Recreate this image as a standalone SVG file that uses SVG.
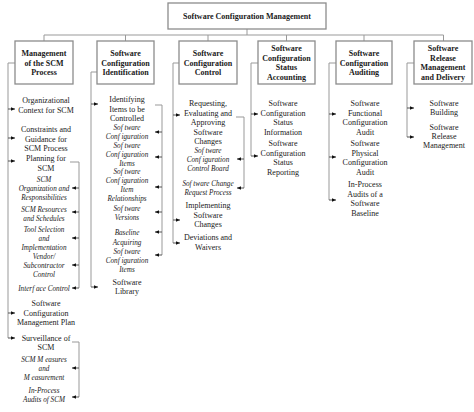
<svg xmlns="http://www.w3.org/2000/svg" width="474" height="412" viewBox="0 0 474 412">
<defs>
<marker id="ah" markerUnits="userSpaceOnUse" markerWidth="5" markerHeight="4" refX="4" refY="2" orient="auto">
<path d="M0,0.2 L4,2 L0,3.8 z" fill="#111"/>
</marker>
<style>
text{font-family:"Liberation Serif","Times New Roman",serif;fill:#1a1a1a;text-anchor:middle}
.hdr{font-size:8px;font-weight:bold}
.l2{font-size:8px}
.l3{font-size:7.2px;font-style:italic}
.box{fill:#fff;stroke:#8c8c8c;stroke-width:1.3}
.ln{fill:none;stroke:#999;stroke-width:1}
.ar{fill:none;stroke:#555;stroke-width:1;marker-end:url(#ah)}
</style>
</defs>
<rect width="474" height="412" fill="#fff"/>

<g id="connectors">
<path class="ln" d="M247,29 V35 M44,41 V35 H443.5 V41 M125.5,35 V41 M208,35 V41 M286.5,35 V41 M364,35 V41"/>
<!-- column 1 -->
<path class="ln" d="M15,63 H8 V338"/>
<path class="ar" d="M8,109 H15"/><path class="ar" d="M8,138 H15"/><path class="ar" d="M8,161 H15"/><path class="ar" d="M8,313 H15"/><path class="ar" d="M8,338 H15"/>
<path class="ln" d="M70,162 H79 V288"/>
<path class="ar" d="M79,188 H72"/><path class="ar" d="M79,212 H72"/><path class="ar" d="M79,238 H72"/><path class="ar" d="M79,265 H72"/><path class="ar" d="M79,288 H72"/>
<path class="ln" d="M72,342 H79 V397"/>
<path class="ar" d="M79,368 H72"/><path class="ar" d="M79,397 H72"/>
<!-- column 2 -->
<path class="ln" d="M97,72 H91 V287"/>
<path class="ar" d="M91,104 H98"/><path class="ar" d="M91,287 H98"/>
<path class="ln" d="M155,105 H162 V255"/>
<path class="ar" d="M162,132 H155"/><path class="ar" d="M162,157 H155"/><path class="ar" d="M162,187 H155"/><path class="ar" d="M162,212 H155"/><path class="ar" d="M162,232 H155"/><path class="ar" d="M162,255 H155"/>
<!-- column 3 -->
<path class="ln" d="M179,63 H173 V243"/>
<path class="ar" d="M173,115 H180"/><path class="ar" d="M173,220 H180"/><path class="ar" d="M173,243 H180"/>
<path class="ln" d="M236,117 H244 V188"/>
<path class="ar" d="M244,159 H237"/><path class="ar" d="M244,188 H237"/>
<!-- column 4 -->
<path class="ln" d="M258,63 H251 V156"/>
<path class="ar" d="M251,114 H258"/><path class="ar" d="M251,156 H258"/>
<!-- column 5 -->
<path class="ln" d="M336,63 H329 V200"/>
<path class="ar" d="M329,114 H336"/><path class="ar" d="M329,157 H336"/><path class="ar" d="M329,200 H336"/>
<!-- column 6 -->
<path class="ln" d="M414,63 H407 V137"/>
<path class="ar" d="M407,108 H414"/><path class="ar" d="M407,137 H414"/>
</g>

<g id="scm">
<rect class="box" x="168" y="3" width="158" height="26"/>
<text class="hdr" x="247" y="19">Software Configuration Management</text>
</g>

<g id="h1"><rect class="box" x="15" y="41" width="58" height="43"/>
<text class="hdr"><tspan x="44" y="56">Management</tspan><tspan x="44" y="65.5">of the SCM</tspan><tspan x="44" y="75">Process</tspan></text></g>
<g id="h2"><rect class="box" x="97" y="41" width="57" height="43"/>
<text class="hdr"><tspan x="125.5" y="56">Software</tspan><tspan x="125.5" y="65.5">Configuration</tspan><tspan x="125.5" y="75">Identification</tspan></text></g>
<g id="h3"><rect class="box" x="179" y="41" width="58" height="43"/>
<text class="hdr"><tspan x="208" y="56">Software</tspan><tspan x="208" y="65.5">Configuration</tspan><tspan x="208" y="75">Control</tspan></text></g>
<g id="h4"><rect class="box" x="258" y="41" width="57" height="43"/>
<text class="hdr"><tspan x="286.5" y="51">Software</tspan><tspan x="286.5" y="60.5">Configuration</tspan><tspan x="286.5" y="70">Status</tspan><tspan x="286.5" y="79.5">Accounting</tspan></text></g>
<g id="h5"><rect class="box" x="336" y="41" width="56" height="43"/>
<text class="hdr"><tspan x="364" y="56">Software</tspan><tspan x="364" y="65.5">Configuration</tspan><tspan x="364" y="75">Auditing</tspan></text></g>
<g id="h6"><rect class="box" x="414" y="41" width="58" height="43"/>
<text class="hdr"><tspan x="443" y="51">Software</tspan><tspan x="443" y="60.5">Release</tspan><tspan x="443" y="70">Management</tspan><tspan x="443" y="79.5">and Delivery</tspan></text></g>

<!-- column 1 items -->
<g id="c1-org"><text class="l2"><tspan x="46" y="103">Organizational</tspan><tspan x="46" y="112.5">Context for SCM</tspan></text></g>
<g id="c1-con"><text class="l2"><tspan x="46" y="132">Constraints and</tspan><tspan x="46" y="141.5">Guidance for</tspan><tspan x="46" y="151">SCM Process</tspan></text></g>
<g id="c1-plan"><text class="l2"><tspan x="46" y="161">Planning for</tspan><tspan x="46" y="170.5">SCM</tspan></text></g>
<g id="c1-orgr"><text class="l3"><tspan x="44" y="182">SCM</tspan><tspan x="44" y="191">Organization and</tspan><tspan x="44" y="200">Responsibilities</tspan></text></g>
<g id="c1-res"><text class="l3"><tspan x="44" y="212">SCM Resources</tspan><tspan x="44" y="221">and Schedules</tspan></text></g>
<g id="c1-tool"><text class="l3"><tspan x="44" y="232">Tool Selection</tspan><tspan x="44" y="241">and</tspan><tspan x="44" y="250">Implementation</tspan></text></g>
<g id="c1-vend"><text class="l3"><tspan x="44" y="259">Vendor/</tspan><tspan x="44" y="268">Subcontractor</tspan><tspan x="44" y="277">Control</tspan></text></g>
<g id="c1-intf"><text class="l3" x="44" y="291">Interf ace Control</text></g>
<g id="c1-scmp"><text class="l2"><tspan x="46" y="306">Software</tspan><tspan x="46" y="315.5">Configuration</tspan><tspan x="46" y="325">Management Plan</tspan></text></g>
<g id="c1-surv"><text class="l2"><tspan x="46" y="341">Surveillance of</tspan><tspan x="46" y="350">SCM</tspan></text></g>
<g id="c1-meas"><text class="l3"><tspan x="44" y="362">SCM M easures</tspan><tspan x="44" y="371">and</tspan><tspan x="44" y="379.5">M easurement</tspan></text></g>
<g id="c1-aud"><text class="l3"><tspan x="44" y="393">In-Process</tspan><tspan x="44" y="402">Audits of  SCM</tspan></text></g>

<!-- column 2 items -->
<g id="c2-id"><text class="l2"><tspan x="127" y="102">Identifying</tspan><tspan x="127" y="111.5">Items to be</tspan><tspan x="127" y="121">Controlled</tspan></text></g>
<g id="c2-sc"><text class="l3"><tspan x="127" y="130">Sof tware</tspan><tspan x="127" y="139">Conf iguration</tspan></text></g>
<g id="c2-sci"><text class="l3"><tspan x="127" y="148">Sof tware</tspan><tspan x="127" y="157">Conf iguration</tspan><tspan x="127" y="166">Items</tspan></text></g>
<g id="c2-rel"><text class="l3"><tspan x="127" y="174">Sof tware</tspan><tspan x="127" y="183">Conf iguration</tspan><tspan x="127" y="192">Item</tspan><tspan x="127" y="201">Relationships</tspan></text></g>
<g id="c2-ver"><text class="l3"><tspan x="127" y="211">Sof tware</tspan><tspan x="127" y="220">Versions</tspan></text></g>
<g id="c2-base"><text class="l3" x="127" y="235">Baseline</text></g>
<g id="c2-acq"><text class="l3"><tspan x="127" y="245">Acquiring</tspan><tspan x="127" y="254">Sof tware</tspan><tspan x="127" y="263">Conf iguration</tspan><tspan x="127" y="271.5">Items</tspan></text></g>
<g id="c2-lib"><text class="l2"><tspan x="127" y="285">Software</tspan><tspan x="127" y="294">Library</tspan></text></g>

<!-- column 3 items -->
<g id="c3-req"><text class="l2"><tspan x="208" y="106">Requesting,</tspan><tspan x="208" y="115.5">Evaluating and</tspan><tspan x="208" y="125">Approving</tspan><tspan x="208" y="134.5">Software</tspan><tspan x="208" y="144">Changes</tspan></text></g>
<g id="c3-ccb"><text class="l3"><tspan x="208" y="153">Sof tware</tspan><tspan x="208" y="162">Conf iguration</tspan><tspan x="208" y="171">Control Board</tspan></text></g>
<g id="c3-crp"><text class="l3"><tspan x="208" y="186">Sof tware Change</tspan><tspan x="208" y="194.5">Request Process</tspan></text></g>
<g id="c3-impl"><text class="l2"><tspan x="208" y="208">Implementing</tspan><tspan x="208" y="217.5">Software</tspan><tspan x="208" y="227">Changes</tspan></text></g>
<g id="c3-dev"><text class="l2"><tspan x="208" y="240">Deviations and</tspan><tspan x="208" y="249.5">Waivers</tspan></text></g>

<!-- column 4 items -->
<g id="c4-info"><text class="l2"><tspan x="283" y="106">Software</tspan><tspan x="283" y="115.5">Configuration</tspan><tspan x="283" y="125">Status</tspan><tspan x="283" y="134.5">Information</tspan></text></g>
<g id="c4-rep"><text class="l2"><tspan x="283" y="146">Software</tspan><tspan x="283" y="155.5">Configuration</tspan><tspan x="283" y="165">Status</tspan><tspan x="283" y="174.5">Reporting</tspan></text></g>

<!-- column 5 items -->
<g id="c5-fca"><text class="l2"><tspan x="365" y="106">Software</tspan><tspan x="365" y="115.5">Functional</tspan><tspan x="365" y="125">Configuration</tspan><tspan x="365" y="134.5">Audit</tspan></text></g>
<g id="c5-pca"><text class="l2"><tspan x="365" y="146">Software</tspan><tspan x="365" y="155.5">Physical</tspan><tspan x="365" y="165">Configuration</tspan><tspan x="365" y="174.5">Audit</tspan></text></g>
<g id="c5-ipa"><text class="l2"><tspan x="365" y="187">In-Process</tspan><tspan x="365" y="196.5">Audits of a</tspan><tspan x="365" y="206">Software</tspan><tspan x="365" y="215.5">Baseline</tspan></text></g>

<!-- column 6 items -->
<g id="c6-bld"><text class="l2"><tspan x="444" y="106">Software</tspan><tspan x="444" y="115">Building</tspan></text></g>
<g id="c6-rel"><text class="l2"><tspan x="444" y="130">Software</tspan><tspan x="444" y="139">Release</tspan><tspan x="444" y="148">Management</tspan></text></g>
</svg>
